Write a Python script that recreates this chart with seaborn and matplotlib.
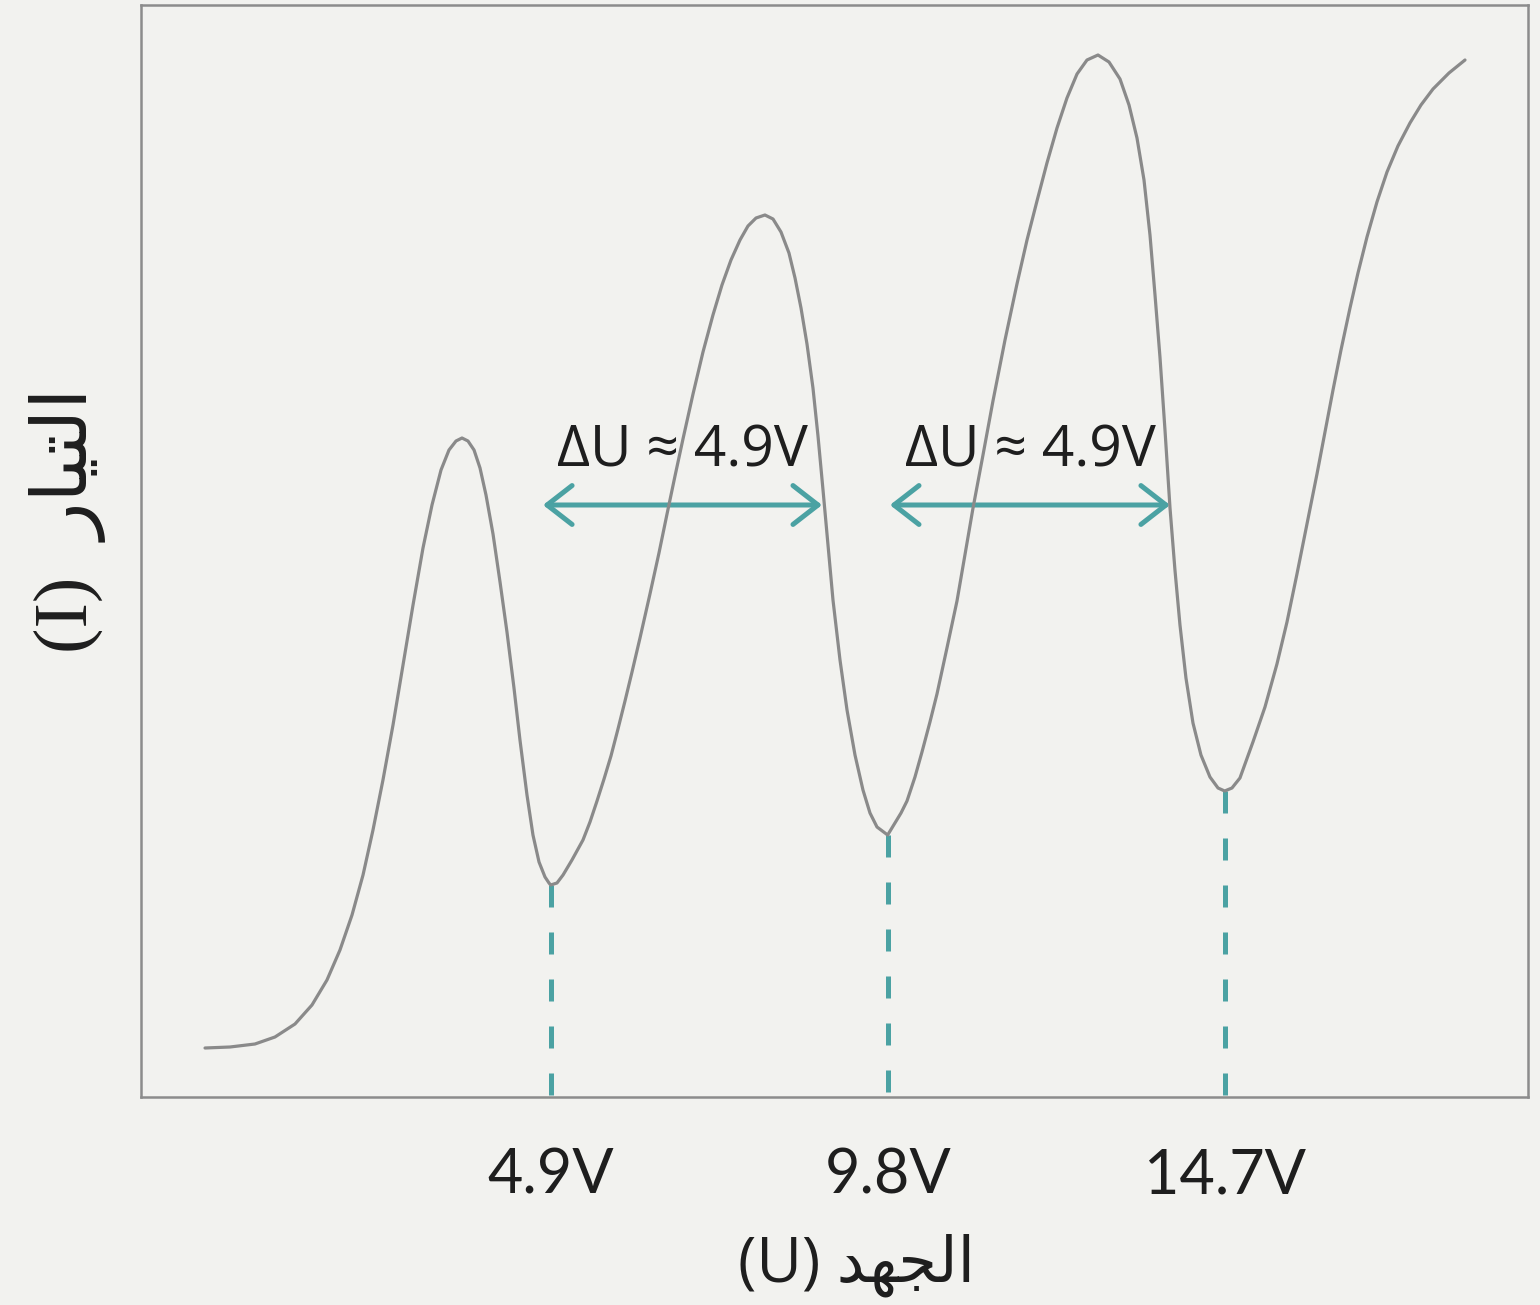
import numpy as np
import pandas as pd
import matplotlib
matplotlib.use("Agg")
import matplotlib.pyplot as plt
import seaborn as sns

# ---------------- data ----------------
# accelerating voltage U (V) and anode current I (arbitrary units)
voltage_U = [
    -0.125, 0.238, 0.601, 0.892, 1.183, 1.430, 1.648, 1.837, 2.012, 2.172,
    2.317, 2.462, 2.608, 2.753, 2.899, 3.044, 3.175, 3.306, 3.422, 3.524,
    3.611, 3.698, 3.786, 3.873, 3.960, 4.062, 4.164, 4.265, 4.367, 4.454,
    4.556, 4.643, 4.731, 4.818, 4.876, 4.900,
    4.992, 5.080, 5.210, 5.370, 5.472, 5.574, 5.676, 5.777, 5.879, 5.981,
    6.083, 6.199, 6.344, 6.475, 6.592, 6.708, 6.824, 6.970, 7.115, 7.260,
    7.391, 7.522, 7.653, 7.769, 7.886, 8.016, 8.133, 8.249, 8.365, 8.453,
    8.540, 8.627, 8.714, 8.787, 8.860, 8.932, 9.005, 9.107, 9.209, 9.325,
    9.441, 9.543, 9.645, 9.800,
    9.906, 9.994, 10.081, 10.197, 10.299, 10.415, 10.517, 10.662, 10.808, 10.924,
    11.041, 11.186, 11.331, 11.506, 11.680, 11.826, 11.971, 12.116, 12.262, 12.407,
    12.553, 12.698, 12.858, 13.018, 13.178, 13.309, 13.425, 13.527, 13.614, 13.687,
    13.759, 13.832, 13.905, 13.977, 14.050, 14.137, 14.239, 14.355, 14.486, 14.603,
    14.700,
    14.806, 14.922, 15.111, 15.286, 15.460, 15.606, 15.751, 15.897, 16.042, 16.158,
    16.275, 16.391, 16.522, 16.638, 16.769, 16.914, 17.060, 17.219, 17.394, 17.554,
    17.729, 17.961, 18.194,
]
current_I = [
    0.49, 0.50, 0.53, 0.60, 0.73, 0.92, 1.17, 1.47, 1.82, 2.22,
    2.67, 3.17, 3.72, 4.32, 4.92, 5.49, 5.92, 6.27, 6.47, 6.56,
    6.59, 6.56, 6.47, 6.29, 6.02, 5.63, 5.15, 4.65, 4.09, 3.57,
    3.02, 2.62, 2.35, 2.20, 2.14, 2.12,
    2.14, 2.22, 2.37, 2.57, 2.75, 2.96, 3.18, 3.41, 3.68, 3.96,
    4.25, 4.59, 5.03, 5.44, 5.83, 6.21, 6.58, 7.03, 7.45, 7.82,
    8.12, 8.37, 8.57, 8.71, 8.79, 8.82, 8.78, 8.65, 8.44, 8.19,
    7.89, 7.53, 7.09, 6.61, 6.07, 5.52, 4.97, 4.37, 3.87, 3.42,
    3.07, 2.84, 2.70, 2.62,
    2.74, 2.84, 2.96, 3.20, 3.45, 3.75, 4.03, 4.49, 4.96, 5.42,
    5.89, 6.42, 6.96, 7.57, 8.13, 8.57, 8.96, 9.34, 9.69, 9.99,
    10.23, 10.37, 10.42, 10.35, 10.18, 9.92, 9.59, 9.17, 8.62, 8.02,
    7.40, 6.67, 5.89, 5.27, 4.72, 4.19, 3.74, 3.42, 3.20, 3.09,
    3.06,
    3.09, 3.19, 3.55, 3.90, 4.33, 4.75, 5.23, 5.73, 6.23, 6.65,
    7.07, 7.47, 7.89, 8.24, 8.60, 8.95, 9.25, 9.51, 9.74, 9.92,
    10.08, 10.24, 10.37,
]
minima_U = [4.9, 9.8, 14.7]
minima_I = [2.12, 2.62, 3.06]
tick_labels = ["4.9V", "9.8V", "14.7V"]

# double arrows: (start U, end U) and their labels
arrow_start_U = [4.789, 9.833]
arrow_end_U = [8.846, 13.905]
arrow_I = 5.92
arrow_labels = ["ΔU ≈ 4.9V", "ΔU ≈ 4.9V"]

# Arabic axis titles, written in visual (left-to-right) order with Arabic
# presentation forms:  "الجهد (U)"  and  "التيار (I)"
x_label = "(U) " + "\uFEAA\uFEEC\uFEA0\uFEDF\uFE8D"
y_label = "(I)  " + "\uFEAD\uFE8E\uFEF4\uFE98\uFEDF\uFE8D"

# ---------------- style ----------------
BG = "#f2f2ef"
CURVE = "#8a8a8a"
TEAL = "#4ba2a3"
FRAME = "#8c8c8c"
INK = "#1e1e1e"

sns.set_style("white")
plt.rcParams["font.family"] = ["Open Sans", "DejaVu Sans"]

fig = plt.figure(figsize=(15.4, 13.05), dpi=100, facecolor=BG)
ax = fig.add_axes([141 / 1540, 1 - 1097 / 1305, (1528 - 141) / 1540, (1097 - 5) / 1305])
ax.set_facecolor(BG)

df = pd.DataFrame({"U": voltage_U, "I": current_I})
sns.lineplot(data=df, x="U", y="I", sort=False, estimator=None,
             color=CURVE, linewidth=2.3, ax=ax, zorder=3)
for ln in ax.get_lines():
    ln.set_solid_joinstyle("round")
    ln.set_solid_capstyle("round")

# dashed verticals at the minima
for u, i in zip(minima_U, minima_I):
    ax.plot([u, u], [i, 0], color=TEAL, linewidth=3.6,
            linestyle=(0, (4.4, 5.0)), solid_capstyle="butt", zorder=2)

# double arrows + labels
for a, b, lab in zip(arrow_start_U, arrow_end_U, arrow_labels):
    ax.annotate("", xy=(b, arrow_I), xytext=(a, arrow_I),
                arrowprops=dict(arrowstyle="<->,head_length=0.9,head_width=0.7",
                                color=TEAL, lw=3.6, shrinkA=0, shrinkB=0,
                                mutation_scale=20),
                zorder=2)
    ax.annotate(lab, xy=((a + b) / 2, arrow_I), xytext=(0, 38),
                textcoords="offset points", ha="center", va="center",
                fontsize=41, color=INK, family=["Open Sans", "DejaVu Sans"],
                zorder=4)

ax.set_xlim(-1.056, 19.11)
ax.set_ylim(0, 10.92)

ax.set_xticks(minima_U)
ax.set_xticklabels(tick_labels, fontsize=44, color=INK, family=["Lato", "DejaVu Sans"])
ax.set_yticks([])
ax.tick_params(axis="x", length=0, pad=36)

ax.set_xlabel(x_label, fontsize=45, color=INK, va="center",
              family=["Open Sans", "DejaVu Sans"])
ax.xaxis.set_label_coords(0.516, -0.154)
ax.set_ylabel(y_label, fontsize=55, color=INK, va="center",
              family=["Liberation Serif", "DejaVu Sans"])
ax.yaxis.set_label_coords(-0.053, 0.528)

for s in ax.spines.values():
    s.set_visible(True)
    s.set_color(FRAME)
    s.set_linewidth(1.8)

fig.savefig("out.png", dpi=100, facecolor=BG)
